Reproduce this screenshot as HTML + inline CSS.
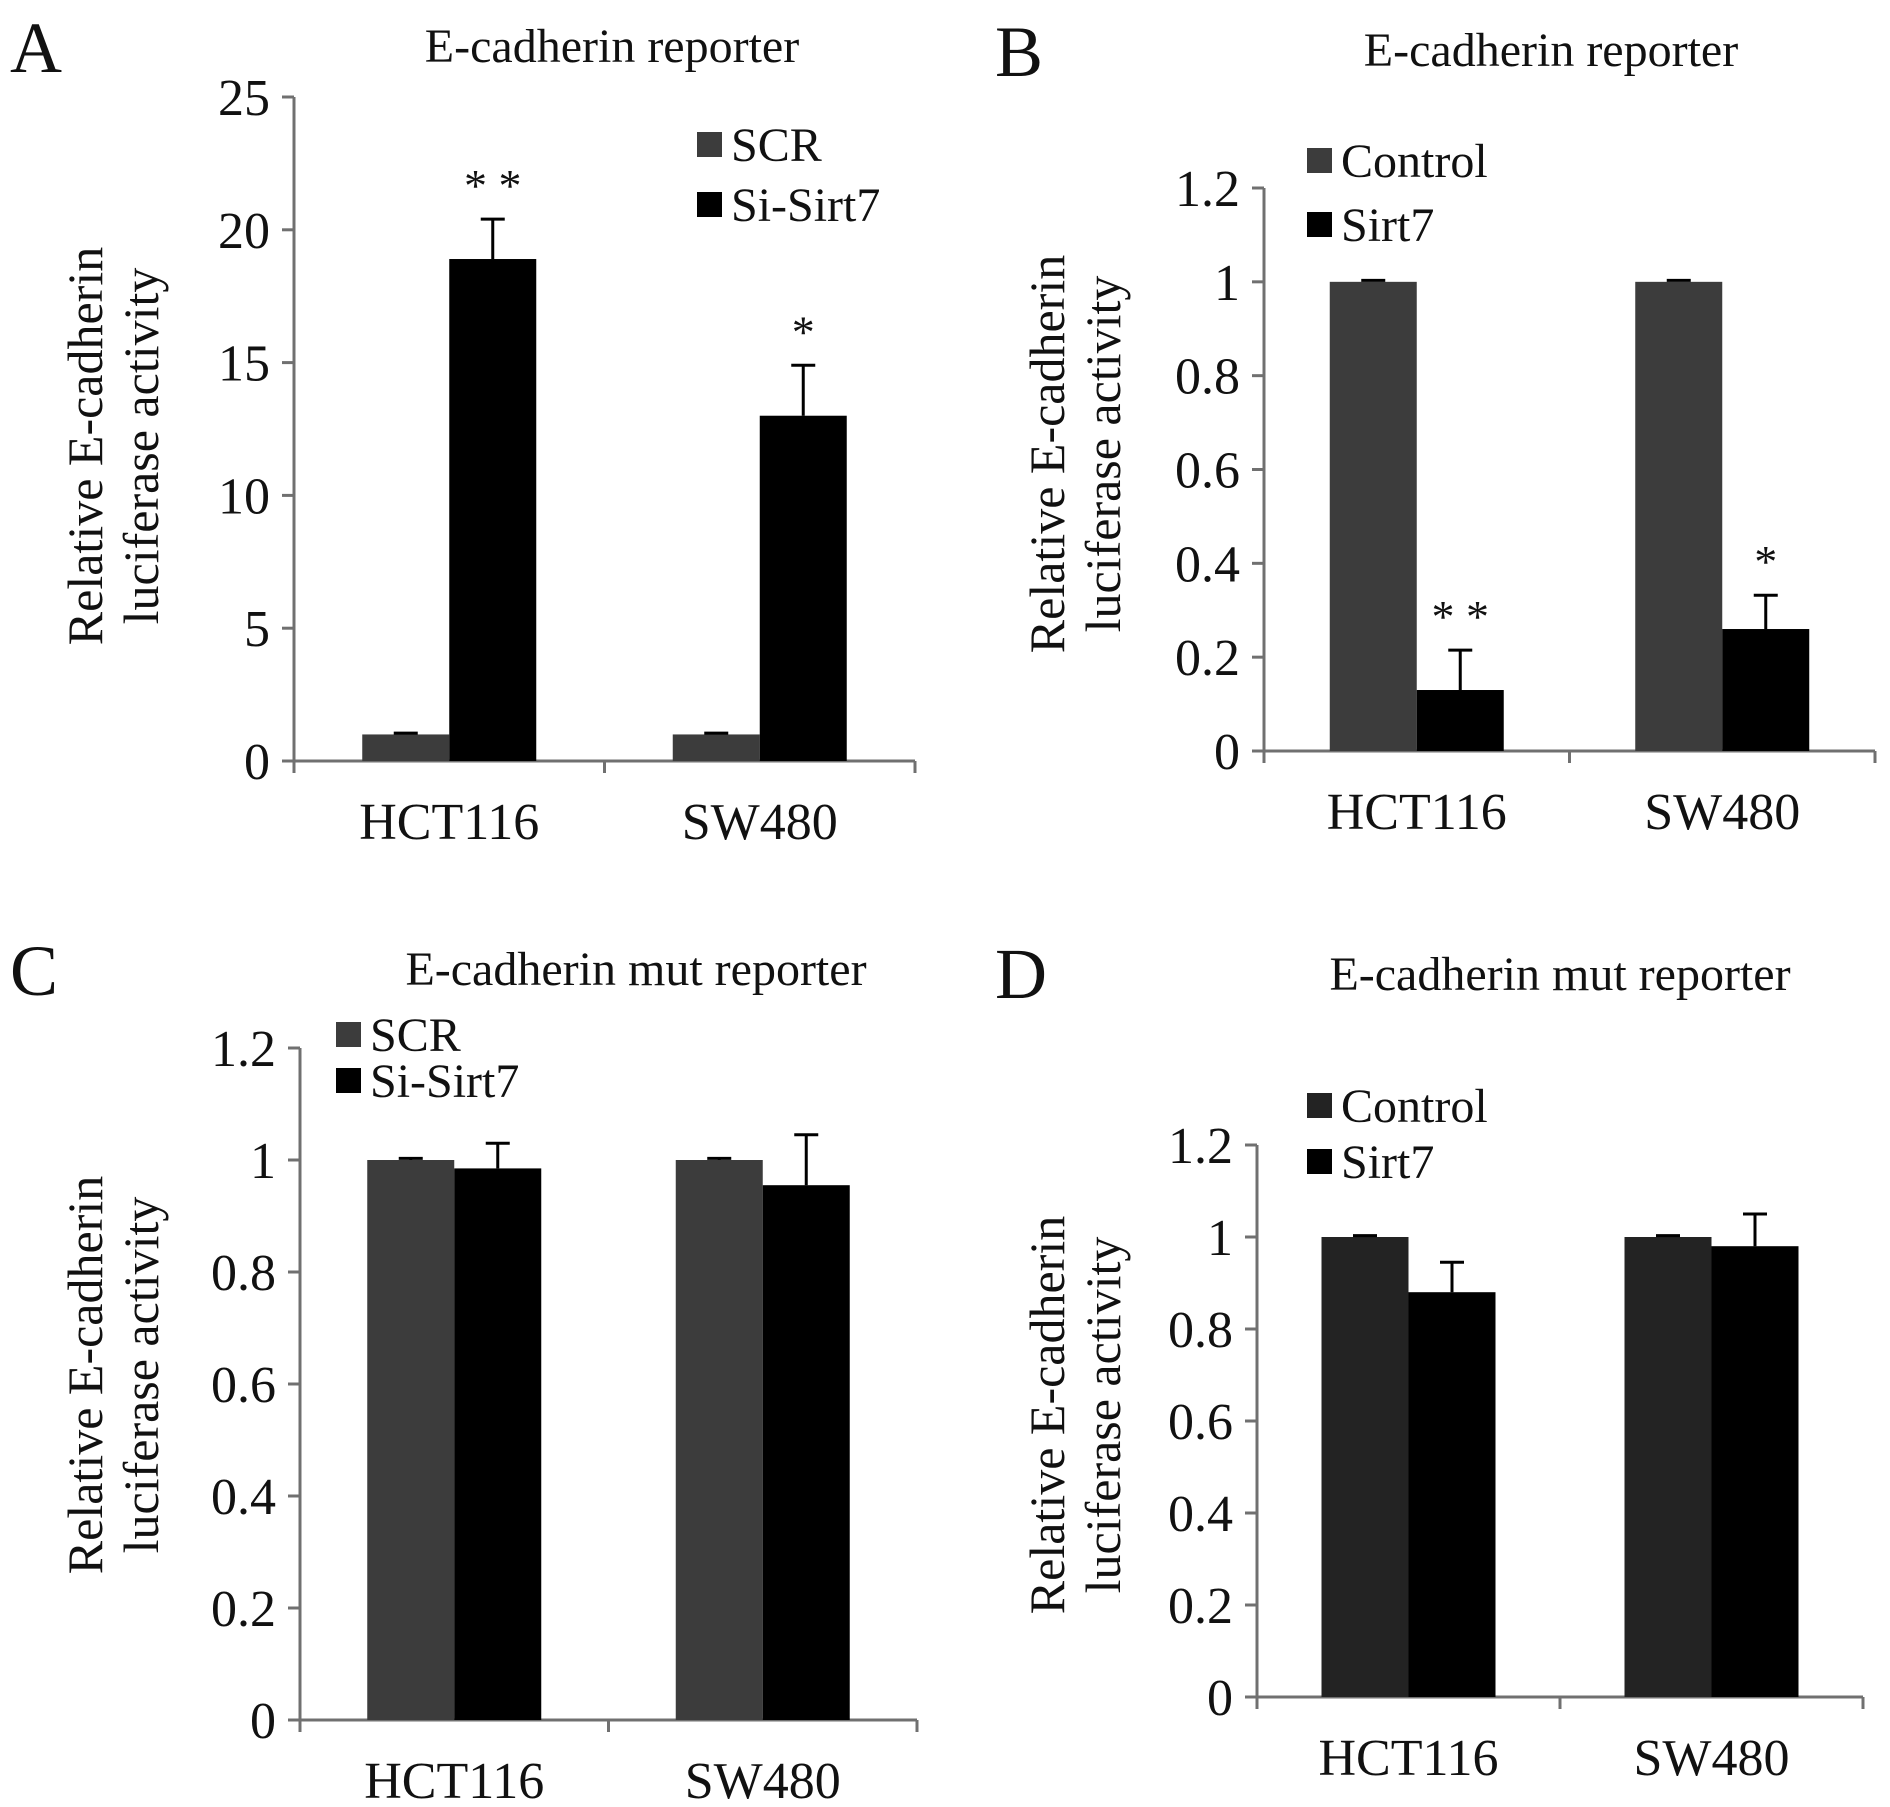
<!DOCTYPE html>
<html><head><meta charset="utf-8"><style>
html,body{margin:0;padding:0;background:#fff}
svg{display:block}
text{font-family:"Liberation Serif","Times New Roman",serif;fill:#111}
</style></head><body>
<svg id="fig" width="1890" height="1807" viewBox="0 0 1890 1807" xmlns="http://www.w3.org/2000/svg"></svg>
<script>
const categories = ["HCT116","SW480"];
const aSeries1 = [1,1], aSeries2 = [18.9,13], aErr1=[0.05,0.05], aErr2=[1.5,1.9], aStars=["* *","*"];
const bSeries1 = [1,1], bSeries2 = [0.13,0.26], bErr1=[0.003,0.003], bErr2=[0.085,0.072], bStars=["* *","*"];
const cSeries1 = [1,1], cSeries2 = [0.985,0.955], cErr1=[0.003,0.003], cErr2=[0.045,0.09];
const dSeries1 = [1,1], dSeries2 = [0.88,0.98], dErr1=[0.003,0.003], dErr2=[0.065,0.07];
const ticksA = [0,5,10,15,20,25];
const ticksB = [0,0.2,0.4,0.6,0.8,1,1.2];

const NS="http://www.w3.org/2000/svg";
const svg=document.getElementById('fig');
function mk(tag,attrs,parent,txt){const e=document.createElementNS(NS,tag);for(const k in attrs)e.setAttribute(k,attrs[k]);if(txt!==undefined)e.textContent=txt;(parent||svg).appendChild(e);return e;}

function panel(p){
  const g=mk('g',{});
  
  
  const ymax=p.ticks[p.ticks.length-1];
  const Y=v=>p.y0-(v/ymax)*(p.y0-p.ytop);
  const catW=(p.xr-p.x0)/categories.length;
  const bw=87;
  const l=mk('text',{x:p.lx,y:p.ly,'font-size':72},g,p.id);
  
  const t=mk('text',{x:p.tx,y:p.ty,'font-size':48,'text-anchor':'middle'},g,p.title);
  
  const ya=mk('line',{x1:p.x0,y1:p.ytop,x2:p.x0,y2:p.y0+12,stroke:'#707070','stroke-width':3},g);
  
  const xa=mk('line',{x1:p.x0-12,y1:p.y0,x2:p.xr,y2:p.y0,stroke:'#707070','stroke-width':3},g);
  
  for(let i=1;i<=categories.length;i++){
    const tk=mk('line',{x1:p.x0+i*catW,y1:p.y0,x2:p.x0+i*catW,y2:p.y0+12,stroke:'#707070','stroke-width':3},g);
    
  }
  p.ticks.forEach(v=>{
    const tk=mk('line',{x1:p.x0-12,y1:Y(v),x2:p.x0,y2:Y(v),stroke:'#707070','stroke-width':3},g);
    
    const tl=mk('text',{x:p.x0-24,y:Y(v)+18,'font-size':52,'text-anchor':'end'},g,String(v));
    
  });
  const yl=mk('text',{transform:`translate(${p.ylx},${p.yly}) rotate(-90)`,'font-size':50,'text-anchor':'middle'},g);
  
  mk('tspan',{x:0,y:0},yl,'Relative E-cadherin');
  mk('tspan',{x:0,y:56},yl,'luciferase activity');
  categories.forEach((c,i)=>{
    const cx=p.x0+catW*(i+0.5);
    [[p.s1,p.e1,p.c1,0],[p.s2,p.e2,'#000',1]].forEach(([s,e,col,k])=>{
      const x=k===0?cx-bw:cx;
      const r=mk('rect',{x:x,y:Y(s[i]),width:bw,height:p.y0-Y(s[i]),fill:col},g);
      
      
      const ex=x+bw/2, yt=Y(s[i]+e[i]);
      const eb=mk('path',{d:`M${ex},${Y(s[i])}V${yt}M${ex-12},${yt}H${ex+12}`,stroke:'#000','stroke-width':3,fill:'none'},g);
      
      if(k===1&&p.stars){
        const st=mk('text',{x:ex,y:yt-18,'font-size':46,'text-anchor':'middle'},g,p.stars[i]);
        
      }
    });
    const cl=mk('text',{x:cx,y:p.y0+78,'font-size':52,'text-anchor':'middle'},g,c);
    
  });
  [[p.n1,p.c1],[p.n2,'#000']].forEach(([n,col],k)=>{
    const ly=p.legy+k*p.legdy;
    const sq=mk('rect',{x:p.legx,y:ly,width:25,height:25,fill:col},g);
    
    const lt=mk('text',{x:p.legx+34,y:ly+29,'font-size':48},g,n);
    
  });
}
panel({id:'A',title:'E-cadherin reporter',lx:10,ly:72,tx:612,ty:62,x0:294,xr:915,y0:761,ytop:97,ticks:ticksA,
  s1:aSeries1,s2:aSeries2,e1:aErr1,e2:aErr2,stars:aStars,c1:'#3c3c3c',n1:'SCR',n2:'Si-Sirt7',legx:697,legy:132,legdy:60,ylx:102,yly:446});
panel({id:'B',title:'E-cadherin reporter',lx:995,ly:76,tx:1551,ty:66,x0:1264,xr:1875,y0:751,ytop:188,ticks:ticksB,
  s1:bSeries1,s2:bSeries2,e1:bErr1,e2:bErr2,stars:bStars,c1:'#3c3c3c',n1:'Control',n2:'Sirt7',legx:1307,legy:148,legdy:64,ylx:1064,yly:454});
panel({id:'C',title:'E-cadherin mut reporter',lx:10,ly:995,tx:636,ty:985,x0:300,xr:917,y0:1720,ytop:1048,ticks:ticksB,
  s1:cSeries1,s2:cSeries2,e1:cErr1,e2:cErr2,stars:null,c1:'#3c3c3c',n1:'SCR',n2:'Si-Sirt7',legx:336,legy:1022,legdy:46,ylx:102,yly:1375});
panel({id:'D',title:'E-cadherin mut reporter',lx:995,ly:998,tx:1560,ty:990,x0:1257,xr:1863,y0:1697,ytop:1145,ticks:ticksB,
  s1:dSeries1,s2:dSeries2,e1:dErr1,e2:dErr2,stars:null,c1:'#232323',n1:'Control',n2:'Sirt7',legx:1307,legy:1093,legdy:56,ylx:1064,yly:1415});
</script>
</body></html>
